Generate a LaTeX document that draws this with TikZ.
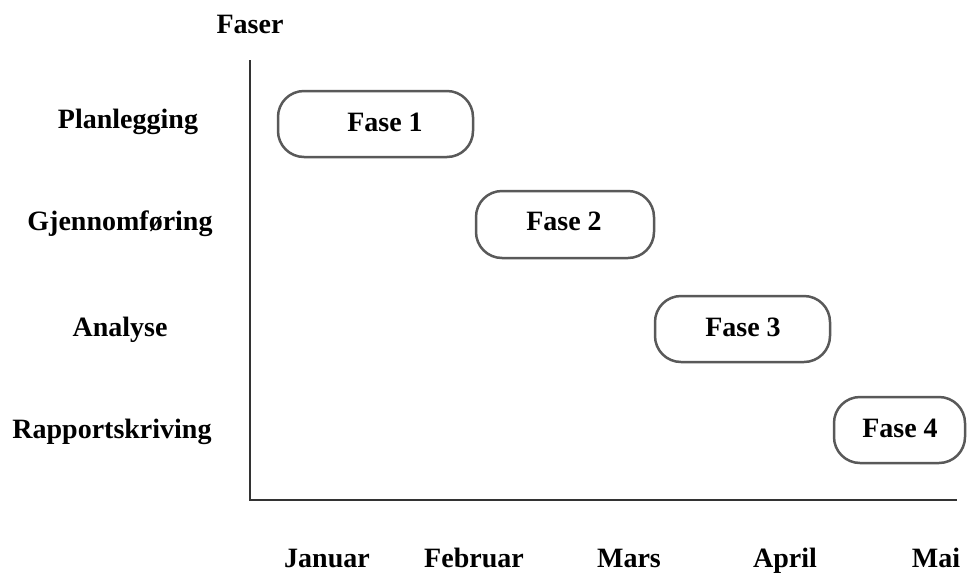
\documentclass[tikz,border=0pt]{standalone}
\usepackage{fontspec}
\setmainfont{Liberation Serif}[BoldFont={Liberation Serif Bold}]
\begin{document}
\begin{tikzpicture}[x=1pt,y=-1pt,
  lbl/.style={font=\fontsize{28}{32}\selectfont\bfseries, inner sep=0pt, anchor=base},
  phase/.style={draw=black!65!white, line width=2.5pt, rounded corners=26pt},
  axis/.style={draw=black!80, line width=1.3pt}]
\useasboundingbox (0,0) rectangle (967,574);
\node[lbl] (faser) at (250,33) {Faser};
\coordinate (top) at (250,60);
\coordinate (origin) at (250,500);
\coordinate (right) at (957,500);
\draw[axis] (top) -- (origin) -- (right);
% rows
\node[lbl] (r1) at (128,128) {Planlegging};
\node[lbl] (r2) at (120,230) {Gjennomføring};
\node[lbl] (r3) at (120,336) {Analyse};
\node[lbl] (r4) at (112,438) {Rapportskriving};
% months
\node[lbl] (m1) at (327,567) {Januar};
\node[lbl] (m2) at (474,567) {Februar};
\node[lbl] (m3) at (629,567) {Mars};
\node[lbl] (m4) at (785,567) {April};
\node[lbl] (m5) at (936,567) {Mai};
% phases
\draw[phase] (278,91) rectangle (473,157);
\node[lbl] (f1) at (385,131) {Fase 1};
\draw[phase] (476,191) rectangle (654,258);
\node[lbl] (f2) at (564,230) {Fase 2};
\draw[phase] (655,296) rectangle (830,362);
\node[lbl] (f3) at (743,336) {Fase 3};
\draw[phase] (834,397) rectangle (965,463);
\node[lbl] (f4) at (900,437) {Fase 4};
\end{tikzpicture}
\end{document}
